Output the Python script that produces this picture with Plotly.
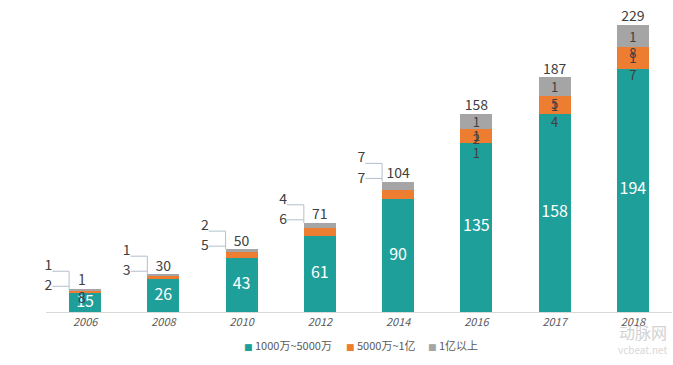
import plotly.graph_objects as go

# ---- data ----
years = ["2006", "2008", "2010", "2012", "2014", "2016", "2017", "2018"]
band_low = [15, 26, 43, 61, 90, 135, 158, 194]    # 1000万~5000万
band_mid = [2, 3, 5, 6, 7, 11, 14, 17]            # 5000万~1亿
band_high = [1, 1, 2, 4, 7, 12, 15, 18]           # 1亿以上
series_names = ["1000万~5000万", "5000万~1亿", "1亿以上"]

TEAL = "#1f9f9a"
ORANGE = "#ed7d31"
GRAY = "#a5a5a5"
DARK = "#404040"
FONT = "Noto Sans CJK SC"

x = list(range(len(years)))
totals = [a + b + c for a, b, c in zip(band_low, band_mid, band_high)]
callout = [(m + h) < 15 for m, h in zip(band_mid, band_high)]  # small segments labelled on the left
BAR_W = 0.41
HALF = BAR_W / 2

fig = go.Figure()

# stacked bars
for vals, col in [(band_low, TEAL), (band_mid, ORANGE), (band_high, GRAY)]:
    fig.add_trace(go.Bar(x=x, y=vals, width=BAR_W, marker=dict(color=col, line=dict(width=0)),
                         showlegend=False, hoverinfo="skip"))

# white labels in the teal segments
fig.add_trace(go.Scatter(x=x, y=[v / 2 for v in band_low], mode="text",
                         text=[str(v) for v in band_low],
                         textfont=dict(color="white", size=16, family=FONT),
                         showlegend=False, hoverinfo="skip", cliponaxis=False))

# totals above bars
tot_text = ["<br>".join(str(t)) if i == 0 else str(t) for i, t in enumerate(totals)]
tot_pos = ["middle center" if i == 0 else "top center" for i in range(len(totals))]
tot_y = [t - 1 if i == 0 else t for i, t in enumerate(totals)]
fig.add_trace(go.Scatter(x=[v - 0.04 if i == 0 else v for i, v in enumerate(x)], y=tot_y,
                         mode="text", text=tot_text, textposition=tot_pos,
                         textfont=dict(color=DARK, size=14, family=FONT),
                         showlegend=False, hoverinfo="skip", cliponaxis=False))

# wrapped labels inside the larger orange / gray segments
wx, wy, wt = [], [], []
for i in x:
    if not callout[i]:
        mid_c = band_low[i] + band_mid[i] / 2 - 8.5
        high_c = band_low[i] + band_mid[i] + band_high[i] / 2 - 8.5
        wx += [i, i]
        wy += [mid_c, high_c]
        wt += ["<br>".join(str(band_mid[i])), "<br>".join(str(band_high[i]))]
fig.add_trace(go.Scatter(x=wx, y=wy, mode="text", text=wt,
                         textfont=dict(color=DARK, size=13, family=FONT),
                         showlegend=False, hoverinfo="skip", cliponaxis=False))

# callout labels on the left of small bars
cx, cy, ct = [], [], []
lx, ly = [], []
for i in x:
    if callout[i]:
        t = totals[i]
        cx += [i - 0.47, i - 0.47]
        cy += [t + 18.3, t + 2]
        ct += [str(band_high[i]), str(band_mid[i])]
        lx += [i - 0.42, i - HALF, i - HALF, None, i - 0.42, i - HALF, None]
        ly += [t + 14.5, t + 14.5, t, None, t + 2.5, t + 2.5, None]
fig.add_trace(go.Scatter(x=lx, y=ly, mode="lines", line=dict(color="#b3bfcc", width=1),
                         showlegend=False, hoverinfo="skip", cliponaxis=False))
fig.add_trace(go.Scatter(x=cx, y=cy, mode="text", text=ct,
                         textfont=dict(color=DARK, size=14, family=FONT),
                         showlegend=False, hoverinfo="skip", cliponaxis=False))

# legend entries: one small legend per series so the spacing matches the original
legend_ids = ["legend", "legend2", "legend3"]
legend_x = [0.2524, 0.4153, 0.5463]
for name, col, lid in zip(series_names, [TEAL, ORANGE, GRAY], legend_ids):
    label = ('<span style="color:%s;font-family:DejaVu Sans;font-size:9px">■</span> %s'
             % (col, name))
    fig.add_trace(go.Scatter(x=[None], y=[None], mode="markers", name=label, legend=lid,
                             marker=dict(symbol="square", size=7, color="rgba(0,0,0,0)")))

legend_common = dict(orientation="h", xanchor="left", y=-0.113, yanchor="middle",
                     font=dict(size=11, color="#595959", family=FONT), itemwidth=30,
                     bgcolor="rgba(0,0,0,0)", borderwidth=0)
legends = {lid: dict(legend_common, x=lx_) for lid, lx_ in zip(legend_ids, legend_x)}

# faint watermark
fig.add_annotation(x=0.995, y=-0.065, xref="paper", yref="paper", xanchor="right", yanchor="middle",
                   text="动脉网", showarrow=False, font=dict(size=16, color="#d2d2d2", family=FONT))
fig.add_annotation(x=0.995, y=-0.125, xref="paper", yref="paper", xanchor="right", yanchor="middle",
                   text="vcbeat.net", showarrow=False, font=dict(size=10, color="#d8d8d8", family=FONT))

fig.update_layout(
    width=673, height=365,
    margin=dict(l=46, r=1, t=11, b=53, autoexpand=False),
    barmode="stack",
    paper_bgcolor="white", plot_bgcolor="white",
    font=dict(family=FONT, color="#595959"),
    xaxis=dict(range=[-0.5, 7.5], tickvals=x, ticktext=years, showgrid=False, zeroline=False,
               showline=True, linecolor="#d9d9d9", linewidth=1, ticks="", automargin=False,
               tickfont=dict(size=11, color="#595959", family=FONT, style="italic")),
    yaxis=dict(range=[0, 240], visible=False, showgrid=False, automargin=False),
    showlegend=True,
    **legends,
)

fig.write_html("out.html", config={"displayModeBar": False},
               post_script="document.body.style.margin='0';document.body.style.overflow='hidden';")
